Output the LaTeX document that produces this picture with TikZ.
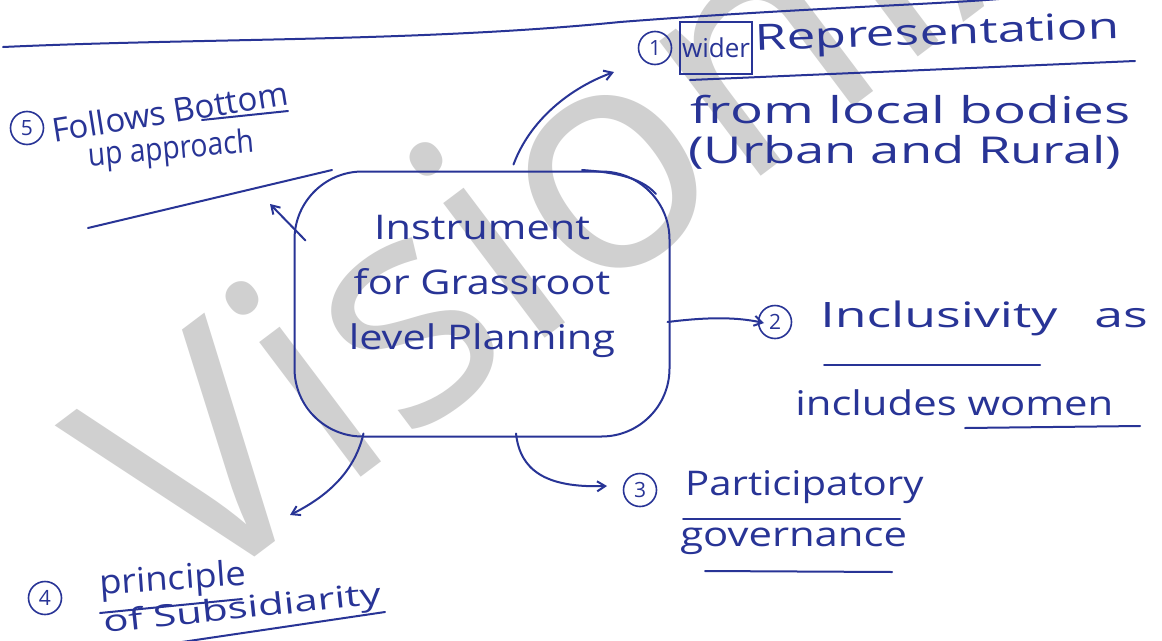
\documentclass[tikz,border=0pt]{standalone}
\usepackage{fontspec}
\setmainfont{Open Sans}
\usetikzlibrary{arrows.meta}
\definecolor{ink}{RGB}{40,52,150}
\definecolor{mark}{RGB}{208,208,208}
\tikzset{
  pen/.style={draw=ink, line width=2pt, line cap=round, line join=round},
  link/.style={pen, -{Straight Barb[length=8pt,width=10pt]}},
  hand/.style={text=ink, inner sep=0pt, font=\fontsize{34}{44}\selectfont, align=left},
  num/.style={circle, draw=ink, line width=1.6pt, text=ink, inner sep=2pt,
              minimum size=33pt, font=\fontsize{21}{21}\selectfont},
  hub/.style={pen, rounded corners=68pt, minimum width=375pt, minimum height=265pt},
}
\begin{document}
\begin{tikzpicture}[x=1pt,y=-1pt]
\useasboundingbox (0,0) rectangle (1162,640);
\fill[white] (0,0) rectangle (1162,640);

% faint diagonal watermark
\node[text=mark, font=\fontsize{315}{315}\selectfont, anchor=base west,
      rotate=37, inner sep=0pt] (wm) at (190,606) {VisionIAS};

% page ruling at the top
\draw[pen] (3,47) .. controls (200,38) and (420,42) .. (620,22)
           .. controls (800,8) and (950,4) .. (1010,-2);

% central idea
\node[hub] (hub) at (482,304) {};
\node[text=ink, align=center, font=\fontsize{34}{55}\selectfont, xscale=1.22]
     (hubtext) at (482,286) {Instrument\\for Grassroot\\level Planning};
% second stroke along the upper right rim
\draw[pen] (582,170) .. controls (610,172) and (640,176) .. (656,194);

% (1) wider representation
\node[num] (n1) at (655,48) {1};
\node[hand, draw=ink, line width=1.8pt, minimum width=72pt, minimum height=52pt,
      font=\fontsize{26}{30}\selectfont] (wider) at (716,48) {wider};
\node[hand, anchor=west, font=\fontsize{36}{44}\selectfont, rotate=2, xscale=1.42]
     (rep) at (755,42) {Representation};
\node[hand, anchor=west, font=\fontsize{37}{44}\selectfont, xscale=1.48]
     (r1b) at (690,110) {from local bodies};
\node[hand, anchor=west, font=\fontsize{37}{44}\selectfont, xscale=1.42]
     (r1c) at (688,152) {(Urban and Rural)};
\coordinate (u1a) at (690,80);
\coordinate (u1b) at (1135,61);
\draw[pen] (u1a) -- (u1b);

% (2) inclusivity
\node[num] (n2) at (775,322) {2};
\node[hand, anchor=west, font=\fontsize{35}{44}\selectfont, xscale=1.48]
     (inc) at (820,318) {Inclusivity\hspace{25pt}as};
\node[hand, anchor=west, xscale=1.23] (inc2) at (795,403) {includes women};
\coordinate (u2a) at (824,365);
\coordinate (u2b) at (1040,365);
\coordinate (u2c) at (965,428);
\coordinate (u2d) at (1140,426);
\draw[pen] (u2a) -- (u2b);
\draw[pen] (u2c) -- (u2d);

% (3) participatory governance
\node[num] (n3) at (640,490) {3};
\node[hand, anchor=west, xscale=1.18] (par) at (685,487) {Participatory};
\node[hand, anchor=west, xscale=1.23] (gov) at (680,541) {governance};
\coordinate (u3a) at (683,519);
\coordinate (u3b) at (900,519);
\coordinate (u3c) at (705,571);
\coordinate (u3d) at (892,572);
\draw[pen] (u3a) -- (u3b);
\draw[pen] (u3c) -- (u3d);

% (4) principle of subsidiarity
\node[num] (n4) at (45,598) {4};
\node[hand, anchor=base west, rotate=4, xscale=1.07] (pri) at (100,595) {principle};
\node[hand, anchor=base west, font=\fontsize{30}{40}\selectfont, rotate=6, xscale=1.4]
     (sub) at (104,633) {of Subsidiarity};
\coordinate (u4a) at (100,613);
\coordinate (u4b) at (242,599);
\coordinate (u4c) at (182,642);
\coordinate (u4d) at (385,612);
\draw[pen] (u4a) -- (u4b);
\draw[pen] (u4c) -- (u4d);

% (5) bottom-up approach
\node[num] (n5) at (27,128) {5};
\node[hand, anchor=west, font=\fontsize{33}{40}\selectfont, rotate=9]
     (fol) at (52,130) {Follows Bottom};
\node[hand, anchor=west, font=\fontsize{32}{40}\selectfont, rotate=5, xscale=0.88]
     (upa) at (88,158) {up approach};
\coordinate (u5a) at (202,120);
\coordinate (u5b) at (288,111);
\coordinate (u5c) at (88,228);
\coordinate (u5d) at (332,170);
\draw[pen] (u5a) -- (u5b);
\draw[pen] (u5c) -- (u5d);

% connectors from the central idea
\coordinate (t1) at (614,72);
\coordinate (t2) at (764,323);
\coordinate (t3) at (607,486);
\coordinate (t4) at (290,515);
\coordinate (t5) at (270,204);
\draw[link] (hub.north west) ++(220,-6) .. controls (530,120) and (570,88) .. (t1);
\draw[link] (hub.east) ++(-3,18) .. controls (700,318) and (732,316) .. (t2);
\draw[link] (hub.south) ++(34,-4) .. controls (520,470) and (545,488) .. (t3);
\draw[link] (hub.south west) ++(70,-4) .. controls (355,470) and (330,495) .. (t4);
\draw[link] (hub.north west) ++(12,70) -- (t5);
\end{tikzpicture}
\end{document}
